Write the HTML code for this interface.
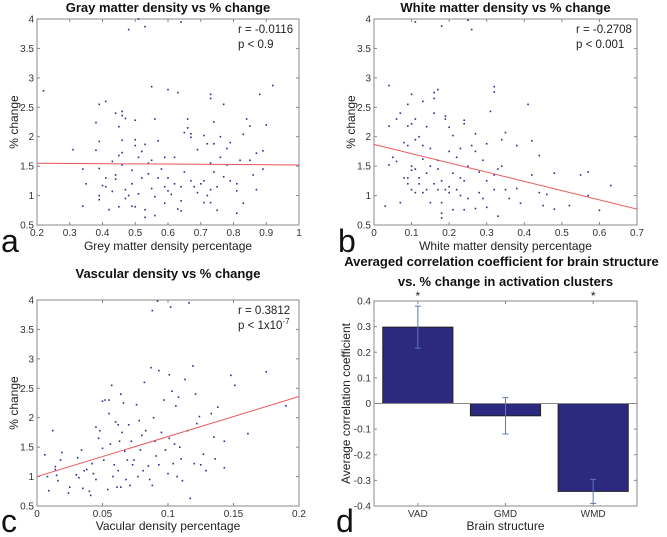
<!DOCTYPE html>
<html><head><meta charset="utf-8"><style>
html,body{margin:0;padding:0;background:#fff;}
svg{display:block;font-family:"Liberation Sans",Arial,sans-serif;}
</style></head><body>
<svg id="fig" width="667" height="537" viewBox="0 0 667 537"></svg>
<script>
const aX=[0.22,0.31,0.34,0.34,0.35,0.38,0.38,0.39,0.39,0.39,0.39,0.39,0.4,0.41,0.41,0.41,0.42,0.43,0.43,0.44,0.44,0.44,0.45,0.45,0.45,0.46,0.46,0.46,0.46,0.46,0.47,0.47,0.47,0.48,0.48,0.49,0.49,0.49,0.5,0.5,0.5,0.5,0.51,0.51,0.51,0.52,0.52,0.53,0.53,0.53,0.53,0.54,0.54,0.55,0.55,0.55,0.56,0.56,0.56,0.57,0.57,0.58,0.59,0.59,0.59,0.6,0.6,0.6,0.61,0.62,0.62,0.63,0.63,0.64,0.64,0.64,0.64,0.65,0.65,0.66,0.66,0.67,0.67,0.67,0.68,0.69,0.69,0.7,0.71,0.71,0.71,0.72,0.72,0.73,0.73,0.73,0.73,0.73,0.74,0.74,0.74,0.75,0.75,0.76,0.76,0.77,0.77,0.78,0.78,0.79,0.79,0.81,0.81,0.81,0.82,0.83,0.83,0.84,0.85,0.85,0.86,0.87,0.87,0.88,0.89,0.89,0.9,0.92];
const aY=[2.78,1.78,1.45,0.82,1.2,2.24,1.77,2.55,1.92,1.46,0.93,1.0,1.17,1.3,1.15,2.6,0.76,1.07,1.58,2.4,1.35,1.28,2.17,1.68,0.81,2.43,2.36,1.52,1.73,1.94,2.31,1.1,0.95,3.82,1.0,1.2,0.82,1.43,1.85,1.95,0.81,2.28,1.65,1.03,4.0,1.75,1.3,1.87,3.87,0.76,0.63,1.37,1.55,2.85,1.12,1.6,2.3,0.66,0.98,1.93,1.3,1.45,1.65,0.87,1.15,2.8,1.08,1.3,1.02,1.65,1.2,2.75,0.77,3.95,0.91,0.74,1.15,2.07,1.4,2.3,2.15,2.05,1.25,1.99,1.15,1.78,1.05,1.2,2.02,1.25,0.88,1.0,1.88,2.72,2.65,1.55,1.1,0.88,1.88,2.25,1.4,0.75,1.15,2.0,1.65,2.55,1.32,1.8,1.52,1.9,1.25,0.7,1.2,1.08,1.6,2.04,0.87,2.3,2.18,1.6,1.35,1.1,1.72,2.72,1.76,1.45,2.2,2.87];
const bX=[0.03,0.04,0.04,0.04,0.05,0.06,0.06,0.07,0.07,0.08,0.08,0.09,0.09,0.09,0.09,0.09,0.1,0.1,0.1,0.1,0.1,0.11,0.11,0.11,0.11,0.11,0.12,0.12,0.12,0.13,0.13,0.13,0.13,0.14,0.14,0.14,0.15,0.15,0.15,0.16,0.16,0.16,0.16,0.17,0.17,0.17,0.17,0.18,0.18,0.18,0.18,0.18,0.19,0.19,0.19,0.2,0.2,0.2,0.2,0.21,0.21,0.21,0.22,0.22,0.23,0.23,0.23,0.24,0.24,0.24,0.24,0.25,0.25,0.25,0.26,0.26,0.27,0.27,0.27,0.28,0.28,0.29,0.29,0.3,0.3,0.3,0.31,0.32,0.32,0.32,0.32,0.33,0.33,0.34,0.34,0.35,0.35,0.36,0.38,0.38,0.39,0.41,0.42,0.42,0.44,0.44,0.45,0.46,0.48,0.48,0.52,0.55,0.57,0.57,0.6,0.63];
const bY=[0.82,2.87,2.18,1.52,1.65,1.58,2.3,2.4,0.88,1.9,1.3,2.55,2.18,1.85,1.2,1.3,2.72,2.22,1.5,1.1,1.43,1.95,2.3,1.05,1.45,3.95,2.0,1.3,1.2,2.6,1.62,1.85,1.05,2.17,1.1,1.38,1.8,0.88,1.5,2.65,2.75,2.4,1.2,2.8,1.1,1.45,1.6,3.88,0.88,0.7,0.62,1.25,2.35,2.3,1.1,2.16,1.15,1.75,1.05,0.76,1.38,2.02,1.65,1.1,1.8,1.0,1.3,2.22,2.28,0.76,1.25,3.98,1.5,0.95,3.82,1.85,2.05,1.75,0.78,1.4,1.05,1.6,0.95,1.88,1.25,0.8,2.43,2.85,2.76,1.35,1.1,0.65,1.45,1.95,1.5,2.07,1.1,0.95,1.12,1.85,0.87,2.55,1.35,1.93,1.68,1.05,0.83,1.02,0.77,1.38,0.83,1.35,1.4,1.0,0.75,1.17];
const cX=[0.006,0.008,0.009,0.012,0.014,0.014,0.015,0.016,0.018,0.019,0.024,0.025,0.03,0.031,0.032,0.034,0.035,0.036,0.038,0.04,0.041,0.042,0.043,0.045,0.045,0.047,0.048,0.05,0.05,0.051,0.052,0.054,0.055,0.055,0.056,0.057,0.058,0.059,0.06,0.061,0.062,0.062,0.063,0.064,0.064,0.065,0.066,0.067,0.068,0.069,0.07,0.071,0.072,0.073,0.074,0.076,0.077,0.078,0.079,0.08,0.081,0.082,0.083,0.085,0.086,0.087,0.088,0.088,0.089,0.09,0.091,0.092,0.093,0.093,0.095,0.097,0.098,0.1,0.101,0.101,0.102,0.103,0.104,0.105,0.106,0.107,0.108,0.109,0.11,0.111,0.113,0.115,0.116,0.117,0.119,0.12,0.121,0.122,0.124,0.125,0.127,0.129,0.133,0.135,0.136,0.138,0.143,0.143,0.148,0.151,0.161,0.175,0.19];
const cY=[1.37,1.0,0.76,1.78,1.17,1.12,1.02,0.93,1.28,1.41,0.72,0.82,1.03,1.32,0.98,1.45,0.8,1.1,1.12,0.75,0.68,1.22,1.05,1.84,0.95,1.65,1.78,1.48,2.28,1.28,2.3,0.78,2.3,2.07,1.55,2.55,1.0,1.2,1.93,0.82,1.1,1.88,1.6,0.82,2.4,1.75,2.25,1.43,0.95,1.28,1.88,0.85,1.6,1.2,1.28,2.22,1.0,1.95,1.45,1.7,1.1,2.6,1.78,1.18,0.95,2.85,0.85,3.82,2.0,1.6,1.35,3.98,2.8,1.2,1.75,2.3,1.45,1.05,2.73,1.65,3.88,2.45,1.22,1.55,2.2,1.0,2.35,1.5,1.3,0.93,2.65,1.78,3.95,0.63,2.88,1.22,2.4,1.9,2.02,1.2,1.38,1.1,2.07,1.67,1.3,2.18,1.6,1.15,2.72,2.55,1.73,2.78,2.2];
const fitA=[1.55,1.52], fitB=[1.87,0.77], fitC=[1.0,2.36];
const yTicksPct=[0.5,1,1.5,2,2.5,3,3.5,4];
const yTickLabelsPct=["0.5","1","1.5","2","2.5","3","3.5","4"];
const xTicksA=[0.2,0.3,0.4,0.5,0.6,0.7,0.8,0.9,1];
const xTickLabelsA=["0.2","0.3","0.4","0.5","0.6","0.7","0.8","0.9","1"];
const xTicksB=[0,0.1,0.2,0.3,0.4,0.5,0.6,0.7];
const xTickLabelsB=["0","0.1","0.2","0.3","0.4","0.5","0.6","0.7"];
const xTicksC=[0,0.05,0.1,0.15,0.2];
const xTickLabelsC=["0","0.05","0.1","0.15","0.2"];
const barCats=["VAD","GMD","WMD"];
const barVals=[0.298,-0.048,-0.343];
const barErr=[0.082,0.071,0.047];
const barStars=[true,false,true];
const yTicksD=[-0.4,-0.3,-0.2,-0.1,0,0.1,0.2,0.3,0.4];
const yTickLabelsD=["-0.4","-0.3","-0.2","-0.1","0","0.1","0.2","0.3","0.4"];

const NS="http://www.w3.org/2000/svg";
const svg=document.getElementById('fig');
function el(tag,attrs,parent,text){const e=document.createElementNS(NS,tag);for(const k in attrs)e.setAttribute(k,attrs[k]);if(text!==undefined)e.textContent=text;(parent||svg).appendChild(e);return e;}

function axesBox(g,L,T,R,B,xt,xl,sx,yt,yl,sy){
  const box=el('rect',{x:L,y:T,width:R-L,height:B-T,fill:'none',stroke:'#888','stroke-width':1},g);
  
  
  xt.forEach((v,i)=>{const x=sx(v);
    el('line',{x1:x,y1:B,x2:x,y2:B-3,stroke:'#888'},g);
    el('line',{x1:x,y1:T,x2:x,y2:T+3,stroke:'#888'},g);
    const t=el('text',{x:x,y:B+11,'font-size':10,'text-anchor':'middle',fill:'#333'},g,xl[i]);
    
    
  });
  yt.forEach((v,i)=>{const y=sy(v);
    el('line',{x1:L,y1:y,x2:L+3,y2:y,stroke:'#888'},g);
    el('line',{x1:R,y1:y,x2:R-3,y2:y,stroke:'#888'},g);
    const t=el('text',{x:L-3,y:y+3.5,'font-size':10,'text-anchor':'end',fill:'#333'},g,yl[i]);
    
    
  });
}

function scatterPanel(name,L,T,R,B,x0,x1,xs,ys,fit,xt,xl,title,xlabel,stat1,stat2,letter,titleY,xlabY){
  const g=el('g',{});
  
  
  const sx=v=>L+(v-x0)/(x1-x0)*(R-L);
  const sy=v=>B-(v-0.5)/3.5*(B-T);
  axesBox(g,L,T,R,B,xt,xl,sx,yTicksPct,yTickLabelsPct,sy);
  xs.forEach((x,i)=>{
    const d=el('rect',{x:sx(x)-0.8,y:sy(ys[i])-0.8,width:1.6,height:1.6,fill:'#2b2d8a'},g);
    
    
  });
  const ln=el('line',{x1:sx(x0),y1:sy(fit[0]),x2:sx(x1),y2:sy(fit[1]),stroke:'#e8575a','stroke-width':1},g);
  
  
  const t=el('text',{x:(L+R)/2,y:titleY,'font-size':13,'font-weight':'bold','text-anchor':'middle',fill:'#111'},g,title);
  
  
  const xlab=el('text',{x:(L+R)/2,y:xlabY,'font-size':12,'text-anchor':'middle',fill:'#222'},g,xlabel);
  
  
  const cy=(T+B)/2;
  const ylab=el('text',{x:0,y:0,'font-size':12,'text-anchor':'middle',fill:'#222',transform:`translate(${L-19},${cy}) rotate(-90)`},g,'% change');
  
  
  const s1=el('text',{x:R-61,y:T+14,'font-size':11.5,fill:'#222'},g,stat1);
  
  
  const s2=el('text',{x:R-61,y:T+29,'font-size':11.5,fill:'#222'},g,'');
  
  
  if(Array.isArray(stat2)){s2.textContent=stat2[0];el('tspan',{'font-size':8,dy:-5},s2,stat2[1]);}
  else s2.textContent=stat2;
  const lt=el('text',{x:L-36,y:xlabY+2,'font-size':32,fill:'#111'},g,letter);
  
  
}

scatterPanel('panel-a-gray-matter',37,19,299,225,0.2,1,aX,aY,fitA,xTicksA,xTickLabelsA,'Gray matter density vs % change','Grey matter density percentage','r = -0.0116','p < 0.9','a',12,250);
scatterPanel('panel-b-white-matter',374,19,637,225,0,0.7,bX,bY,fitB,xTicksB,xTickLabelsB,'White matter density vs % change','White matter density percentage','r = -0.2708','p < 0.001','b',12,250);
scatterPanel('panel-c-vascular',37,300,299,506,0,0.2,cX,cY,fitC,xTicksC,xTickLabelsC,'Vascular density vs % change','Vacular density percentage','r = 0.3812',['p < 1x10','-7'],'c',278,530);

(function(){
  const L=374,T=301,R=637,B=506;
  const g=el('g',{});
  
  
  const sx=v=>L+(v-0.5)/3*(R-L);
  const sy=v=>B-(v+0.4)/0.8*(B-T);
  barVals.forEach((v,i)=>{
    const c=i+1,x0=sx(c-0.4),x1=sx(c+0.4);
    const r=el('rect',{x:x0,y:Math.min(sy(v),sy(0)),width:x1-x0,height:Math.abs(sy(v)-sy(0)),fill:'#2b2a80',stroke:'#222'},g);
    
    
  });
  el('line',{x1:L,y1:sy(0),x2:R,y2:sy(0),stroke:'#888'},g);
  barVals.forEach((v,i)=>{
    const x=sx(i+1),y1=sy(v+barErr[i]),y2=sy(v-barErr[i]);
    const e=el('g',{},g);
    
    
    el('line',{x1:x,y1:y1,x2:x,y2:y2,stroke:'#5a78b8'},e);
    el('line',{x1:x-3,y1:y1,x2:x+3,y2:y1,stroke:'#5a78b8'},e);
    el('line',{x1:x-3,y1:y2,x2:x+3,y2:y2,stroke:'#5a78b8'},e);
    if(barStars[i]){const s=el('text',{x:x,y:T-1,'font-size':12,'text-anchor':'middle',fill:'#222'},g,'*');
      
      }
  });
  axesBox(g,L,T,R,B,[1,2,3],barCats,sx,yTicksD,yTickLabelsD,sy);
  const t1=el('text',{x:(L+R)/2-4,y:266,'font-size':13,'font-weight':'bold','text-anchor':'middle',fill:'#111'},g,'Averaged correlation coefficient for brain structure');
  
  
  const t2=el('text',{x:(L+R)/2,y:286,'font-size':13,'font-weight':'bold','text-anchor':'middle',fill:'#111'},g,'vs. % change in activation clusters');
  
  
  const xl=el('text',{x:(L+R)/2,y:530,'font-size':12,'text-anchor':'middle',fill:'#222'},g,'Brain structure');
  
  
  const yl=el('text',{x:0,y:0,'font-size':12,'text-anchor':'middle',fill:'#222',transform:`translate(${L-24},${(T+B)/2}) rotate(-90)`},g,'Average correlation coefficient');
  
  
  const lt=el('text',{x:L-38,y:532,'font-size':32,fill:'#111'},g,'d');
  
  
})();
</script>
</body></html>
